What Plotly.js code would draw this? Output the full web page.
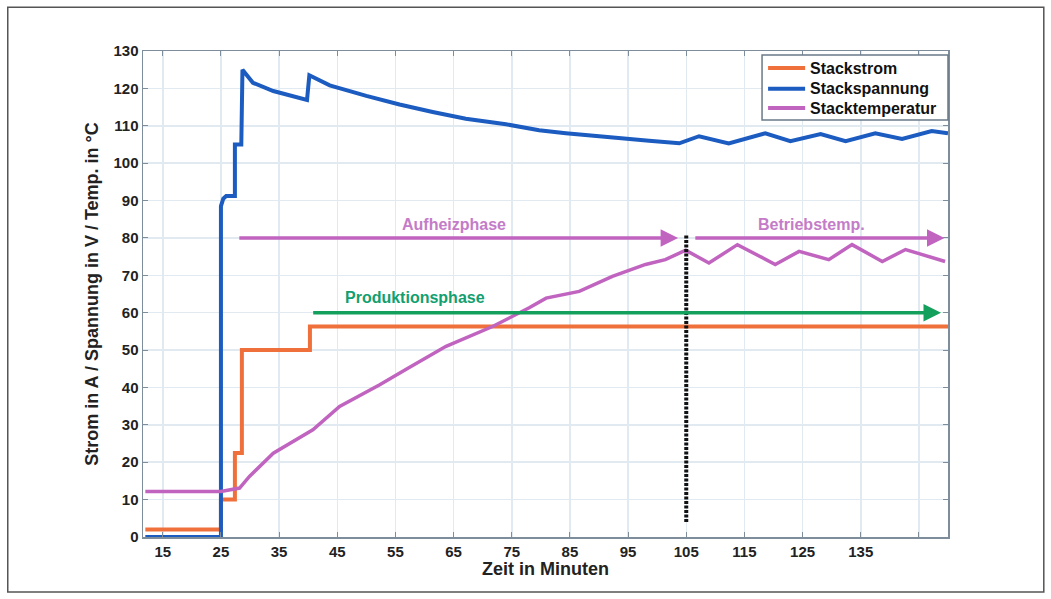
<!DOCTYPE html>
<html>
<head>
<meta charset="utf-8">
<script src="https://cdn.plot.ly/plotly-3.0.1.min.js"></script>
<style>html,body{margin:0;padding:0;background:#fff;}#chart{width:1051px;height:599px;}</style>
</head>
<body>
<div id="chart"></div>
<script>
// ---- data ----
var stromX = [12, 25, 25, 27.4, 27.4, 28.6, 28.6, 40.3, 40.3, 150];
var stromY = [2, 2, 10, 10, 22.5, 22.5, 50, 50, 56.3, 56.3];

var spannungX = [12, 25, 25, 25.4, 25.9, 27.4, 27.4, 28.5, 28.7, 30.5, 34, 39.8, 40.2, 43.7, 50, 55.7, 61.4, 67.1, 74, 79.7, 84.3, 90, 95.7, 98.6, 103.8, 107.2, 112.3, 118.6, 122.9, 128.1, 132.4, 137.5, 142.1, 147.2, 150];
var spannungY = [0, 0, 88.5, 90.5, 91.2, 91.2, 105, 105, 125, 121.5, 119.3, 116.9, 123.5, 120.8, 118, 115.7, 113.7, 111.9, 110.4, 108.8, 108, 107.1, 106.3, 106, 105.3, 107.2, 105.3, 108, 105.9, 107.8, 105.9, 108, 106.5, 108.6, 108];

var tempX = [12, 25, 28.2, 29.9, 34, 40.8, 45.4, 52.3, 57, 63.7, 71.7, 78, 80.9, 86.6, 92.3, 98, 101.4, 104.9, 108.9, 113.8, 120.3, 124.4, 129.5, 133.5, 138.7, 142.7, 149.5];
var tempY = [12.2, 12.2, 13.1, 16.2, 22.4, 28.7, 34.9, 40.7, 45, 51, 56.3, 61.3, 63.9, 65.7, 69.7, 72.9, 74.2, 76.7, 73.3, 78.2, 72.9, 76.4, 74.2, 78.2, 73.7, 76.9, 73.7];

var seriesNames = ["Stackstrom", "Stackspannung", "Stacktemperatur"];

var markerX = [105, 105];
var markerY = [4, 81];

var phaseNames = ["Aufheizphase", "Betriebstemp.", "Produktionsphase"];
var phaseStart = [27.9, 106.3, 40.6];
var phaseEnd = [103.6, 149.4, 148.8];
var phaseLevel = [80, 80, 60];
var phaseLabelX = [65.1, 126.6, 58.4];
var phaseLabelY = [83.6, 83.6, 64];

var xTickVals = [15, 25, 35, 45, 55, 65, 75, 85, 95, 105, 115, 125, 135, 145];
var xTickText = ["15", "25", "35", "45", "55", "65", "75", "85", "95", "105", "115", "125", "135", ""];
var yTickVals = [0, 10, 20, 30, 40, 50, 60, 70, 80, 90, 100, 110, 120, 130];

// ---- styles ----
var cOrange = "#f0703c", cBlue = "#1c5cc0", cMagenta = "#c064c0", cGreen = "#12a05c";
var seriesColors = [cOrange, cBlue, cMagenta];
var seriesWidths = [4, 4, 3.5];
var phaseColors = [cMagenta, cMagenta, cGreen];
var phaseTextColors = ["#c47cc8", "#c47cc8", "#12a070"];
var FONT = "Liberation Sans, Arial, sans-serif";

var seriesX = [stromX, spannungX, tempX];
var seriesY = [stromY, spannungY, tempY];

var traces = [];
for (var s = 0; s < seriesNames.length; s++) {
  traces.push({x: seriesX[s], y: seriesY[s], type: "scatter", mode: "lines", name: seriesNames[s],
    line: {color: seriesColors[s], width: seriesWidths[s]}});
}
traces.push({x: markerX, y: markerY, type: "scatter", mode: "lines", showlegend: false, hoverinfo: "skip",
   line: {color: "#111", width: 4, dash: "3px,1.5px"}});

var annotations = [];
var shapes = [];
for (var i = 0; i < phaseNames.length; i++) {
  annotations.push({
    x: phaseEnd[i], y: phaseLevel[i], ax: phaseStart[i], ay: phaseLevel[i],
    xref: "x", yref: "y", axref: "x", ayref: "y",
    text: "", showarrow: true, arrowhead: 2, arrowsize: 1, arrowwidth: 3.5,
    arrowcolor: phaseColors[i], standoff: 0, startstandoff: 0
  });
  annotations.push({
    x: phaseLabelX[i], y: phaseLabelY[i], xref: "x", yref: "y",
    text: phaseNames[i], showarrow: false,
    font: {family: FONT, size: 16, weight: "bold", color: phaseTextColors[i]}
  });
}

// custom legend box (paper coordinates)
var legBox = {x0: 0.769, x1: 1.0, y0: 0.858, y1: 0.992};
var legRows = [0.965, 0.9225, 0.8825];
shapes.push({type: "rect", xref: "paper", yref: "paper",
  x0: legBox.x0, x1: legBox.x1, y0: legBox.y0, y1: legBox.y1,
  fillcolor: "#ffffff", line: {color: "#6a7a88", width: 1.5}, layer: "above"});
for (var k = 0; k < seriesNames.length; k++) {
  shapes.push({type: "line", xref: "paper", yref: "paper",
    x0: 0.7765, x1: 0.8225, y0: legRows[k], y1: legRows[k],
    line: {color: seriesColors[k], width: 4}, layer: "above"});
  annotations.push({xref: "paper", yref: "paper", x: 0.826, y: legRows[k],
    xanchor: "left", yanchor: "middle", showarrow: false, text: seriesNames[k],
    font: {family: FONT, size: 16, color: "#111", weight: "bold"}});
}

// outer frame
shapes.push({
  type: "rect", xref: "paper", yref: "paper",
  x0: -0.168, x1: 1.119, y0: -0.113, y1: 1.090,
  line: {color: "#555", width: 1.5}, fillcolor: "rgba(0,0,0,0)", layer: "below"
});

var layout = {
  width: 1051, height: 599,
  paper_bgcolor: "#ffffff", plot_bgcolor: "#ffffff",
  margin: {l: 143, r: 103, t: 51, b: 62},
  font: {family: FONT, size: 15, color: "#222", weight: "bold"},
  showlegend: false,
  xaxis: {
    range: [11.6, 150], tickvals: xTickVals, ticktext: xTickText,
    showgrid: true, gridcolor: "#e2eaf1", gridwidth: 1.5,
    showline: true, mirror: "ticks", linecolor: "#7d8d9b", linewidth: 1.5,
    ticks: "inside", ticklen: 5, tickcolor: "#7d8d9b", zeroline: false,
    tickfont: {family: FONT, size: 15, color: "#222", weight: "bold"},
    title: {text: "Zeit in Minuten", standoff: 4,
            font: {family: FONT, size: 18, color: "#222", weight: "bold"}}
  },
  yaxis: {
    range: [0, 130], tickvals: yTickVals,
    showgrid: true, gridcolor: "#e2eaf1", gridwidth: 1.5,
    showline: true, mirror: "ticks", linecolor: "#7d8d9b", linewidth: 1.5,
    ticks: "inside", ticklen: 5, tickcolor: "#7d8d9b", zeroline: false,
    tickfont: {family: FONT, size: 15, color: "#222", weight: "bold"},
    title: {text: "Strom in A / Spannung in V / Temp. in °C", standoff: 10,
            font: {family: FONT, size: 18, color: "#222", weight: "bold"}}
  },
  annotations: annotations,
  shapes: shapes
};

Plotly.newPlot("chart", traces, layout, {displayModeBar: false, staticPlot: true});
</script>
</body>
</html>
